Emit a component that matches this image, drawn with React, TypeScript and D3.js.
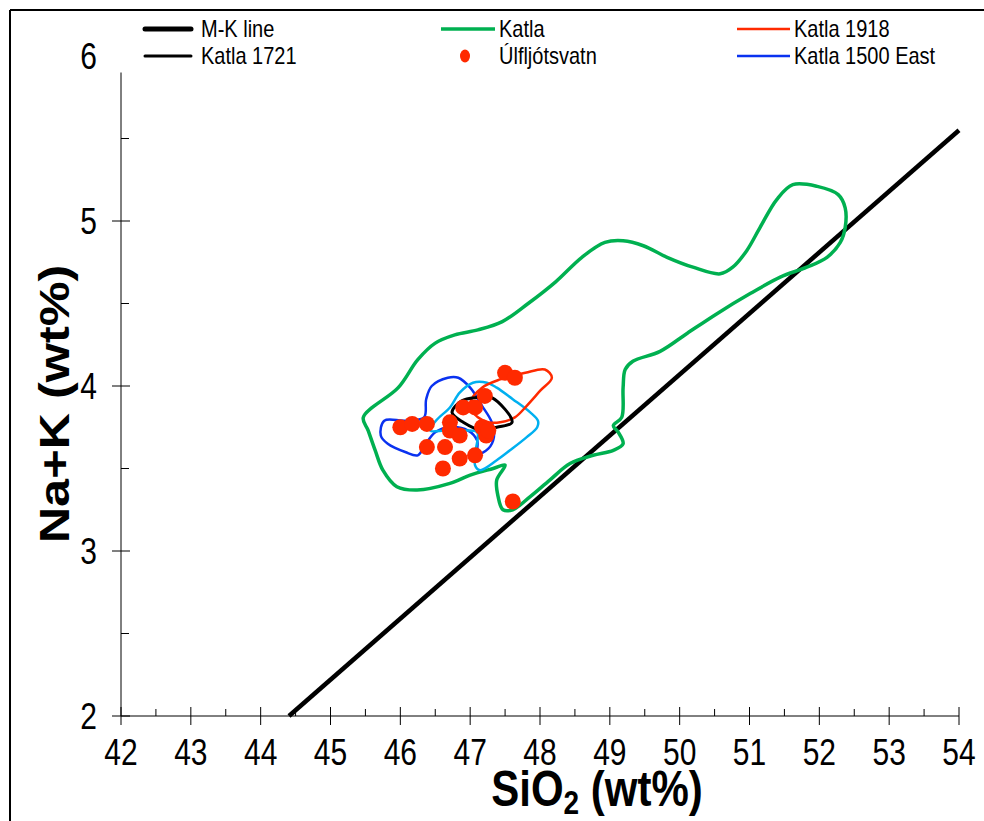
import React from "react";
import * as d3 from "d3";

const W = 984;
const H = 821;

const xTicks = [42, 43, 44, 45, 46, 47, 48, 49, 50, 51, 52, 53, 54];
const yTicks = [2, 3, 4, 5, 6];

// M-K line: Na2O+K2O = 0.37*SiO2 - 14.43
const mkSlope = 0.37;
const mkIntercept = -14.43;

const katla: [number, number][] = [
  [45.47, 3.81], [45.97, 3.99], [46.25, 4.16], [46.5, 4.26], [46.78, 4.31], [47.11, 4.34],
  [47.46, 4.39], [47.83, 4.5], [48.22, 4.63], [48.6, 4.78], [48.93, 4.87], [49.19, 4.88],
  [49.48, 4.85], [49.82, 4.78], [50.19, 4.72], [50.58, 4.68], [50.76, 4.72], [50.96, 4.82],
  [51.15, 4.96], [51.39, 5.13], [51.62, 5.22], [51.97, 5.21], [52.27, 5.16], [52.37, 5.08],
  [52.37, 4.96], [52.3, 4.87], [52.11, 4.78], [51.82, 4.72], [51.44, 4.66], [51.01, 4.56],
  [50.54, 4.44], [50.11, 4.32], [49.72, 4.21], [49.33, 4.15], [49.22, 4.1], [49.19, 3.99],
  [49.17, 3.81], [49.05, 3.76], [49.12, 3.72], [49.19, 3.65], [49.05, 3.61], [48.76, 3.58],
  [48.43, 3.53], [48.14, 3.43], [47.86, 3.33], [47.61, 3.25], [47.47, 3.25], [47.4, 3.33],
  [47.38, 3.43], [47.5, 3.52], [47.33, 3.5], [47.0, 3.46], [46.71, 3.41], [46.24, 3.37],
  [45.95, 3.39], [45.75, 3.49], [45.64, 3.61], [45.54, 3.73],
];

const katla1500East: [number, number][] = [
  [45.77, 3.79], [46.07, 3.79], [46.34, 3.81], [46.37, 3.92], [46.45, 4.0], [46.68, 4.05],
  [46.83, 4.05], [47.0, 3.99], [47.17, 3.88], [47.31, 3.78], [47.34, 3.69], [47.26, 3.62],
  [47.11, 3.59], [47.1, 3.67], [46.97, 3.73], [46.71, 3.75], [46.5, 3.72], [46.35, 3.64],
  [46.25, 3.58], [46.07, 3.6], [45.82, 3.65], [45.72, 3.7],
];

const katlaOther: [number, number][] = [
  [46.43, 3.73], [46.51, 3.79], [46.71, 3.87], [46.85, 3.96], [47.04, 4.02], [47.24, 4.02],
  [47.38, 3.99], [47.61, 3.92], [47.86, 3.84], [47.97, 3.79], [47.96, 3.75], [47.81, 3.69],
  [47.57, 3.61], [47.38, 3.55], [47.14, 3.49], [47.07, 3.52], [47.08, 3.61], [47.1, 3.72],
  [46.9, 3.73], [46.64, 3.73],
];

const katla1918: [number, number][] = [
  [47.0, 3.9], [47.17, 3.99], [47.43, 4.04], [47.79, 4.08], [48.07, 4.1], [48.17, 4.05],
  [48.0, 3.97], [47.81, 3.88], [47.64, 3.81], [47.43, 3.78], [47.26, 3.78], [47.11, 3.81],
  [47.03, 3.85],
];

const katla1721: [number, number][] = [
  [46.74, 3.84], [46.88, 3.91], [47.1, 3.93], [47.31, 3.93], [47.6, 3.78], [47.38, 3.75],
  [47.18, 3.73], [46.9, 3.78],
];

const ulfSiO2 = [46.0, 46.17, 46.38, 46.71, 46.71, 46.85, 46.38, 46.64, 47.07, 46.85, 46.61, 46.9, 47.07, 47.21, 47.17, 47.23, 47.26, 47.5, 47.64, 47.61];
const ulfAlk = [3.75, 3.77, 3.77, 3.78, 3.73, 3.7, 3.63, 3.63, 3.58, 3.56, 3.5, 3.87, 3.87, 3.94, 3.75, 3.7, 3.73, 4.08, 4.05, 3.3];

const GREEN = "#00b050";
const RED = "#ff2a00";
const BLUE = "#0a32f0";
const LIGHTBLUE = "#00b0f0";
const FONT = "'Liberation Sans', Arial, sans-serif";
const SY = 1.2; // vertical stretch of glyphs in the reference

function T({ x, y, size, anchor = "start", weight = "normal", children }: any) {
  return (
    <text
      transform={`translate(${x},${y}) scale(1,${SY})`}
      fontSize={size}
      textAnchor={anchor}
      fontWeight={weight}
    >
      {children}
    </text>
  );
}

export default function App() {
  const x = d3.scaleLinear().domain([42, 54]).range([121, 959]);
  const y = d3.scaleLinear().domain([2, 6]).range([716, 56]);

  const closed = d3
    .line<[number, number]>()
    .x((d) => x(d[0]))
    .y((d) => y(d[1]))
    .curve(d3.curveCatmullRomClosed.alpha(0.5));

  const mkX0 = (2 - mkIntercept) / mkSlope;
  const mkX1 = 54;

  const minorX = d3.range(42.5, 54, 1);
  const minorY = d3.range(2.5, 6, 1);
  const yAxisTop = 5.9;

  return (
    <svg
      width={W}
      height={H}
      style={{ position: "absolute", left: 0, top: 0, background: "#fff" }}
      fontFamily={FONT}
    >
      <rect x={0} y={0} width={W} height={H} fill="#fff" />
      {/* frame */}
      <line x1={10} y1={10} x2={W + 5} y2={10} stroke="#000" strokeWidth={2} />
      <line x1={10} y1={10} x2={10} y2={H + 5} stroke="#000" strokeWidth={2} />

      {/* axes */}
      <line x1={x(42)} y1={y(2)} x2={x(54)} y2={y(2)} stroke="#000" strokeWidth={1} />
      <line x1={x(42)} y1={y(2)} x2={x(42)} y2={y(yAxisTop)} stroke="#000" strokeWidth={1} />
      {xTicks.map((t) => (
        <g key={"xt" + t}>
          <line x1={x(t)} x2={x(t)} y1={y(2) - 9} y2={y(2) + 9} stroke="#000" />
          <T x={x(t)} y={y(2) + 49} size={30} anchor="middle">
            {t}
          </T>
        </g>
      ))}
      {minorX.map((t) => (
        <line key={"xm" + t} x1={x(t)} x2={x(t)} y1={y(2) - 7} y2={y(2)} stroke="#000" />
      ))}
      {yTicks.map((t) => (
        <g key={"yt" + t}>
          {t < 6 && <line x1={x(42) - 9} x2={x(42) + 9} y1={y(t)} y2={y(t)} stroke="#000" />}
          <T x={97} y={y(t) + 13} size={30} anchor="end">
            {t}
          </T>
        </g>
      ))}
      {minorY.map((t) => (
        <line key={"ym" + t} x1={x(42)} x2={x(42) + 8} y1={y(t)} y2={y(t)} stroke="#000" />
      ))}

      {/* titles */}
      <text
        transform={`translate(597,806) scale(1,${SY})`}
        fontSize={42}
        fontWeight="bold"
        textAnchor="middle"
      >
        SiO
        <tspan fontSize={28} dy={7}>2</tspan>
        <tspan dy={-7}> (wt%)</tspan>
      </text>
      <text
        transform={`translate(69,404) scale(1,${SY}) rotate(-90)`}
        fontSize={42}
        fontWeight="bold"
        textAnchor="middle"
      >
        Na+K (wt%)
      </text>

      {/* M-K line */}
      <line x1={x(mkX0)} y1={y(2)} x2={x(mkX1)} y2={y(mkSlope * mkX1 + mkIntercept)} stroke="#000" strokeWidth={4.5} />

      {/* fields */}
      <path d={closed(katla) || ""} fill="none" stroke={GREEN} strokeWidth={3.5} />
      <path d={closed(katla1500East) || ""} fill="none" stroke={BLUE} strokeWidth={2.5} />
      <path d={closed(katlaOther) || ""} fill="none" stroke={LIGHTBLUE} strokeWidth={2.5} />
      <path d={closed(katla1918) || ""} fill="none" stroke={RED} strokeWidth={2.5} />
      <path d={closed(katla1721) || ""} fill="none" stroke="#000" strokeWidth={3} />

      {ulfSiO2.map((s, i) => (
        <circle key={"u" + i} cx={x(s)} cy={y(ulfAlk[i])} r={8} fill={RED} />
      ))}

      {/* legend */}
      <g>
        <line x1={145} x2={191} y1={29} y2={29} stroke="#000" strokeWidth={5} strokeLinecap="round" />
        <T x={201} y={37} size={20}>M-K line</T>
        <line x1={441} x2={495} y1={29} y2={29} stroke={GREEN} strokeWidth={3.5} />
        <T x={499} y={37} size={20}>Katla</T>
        <line x1={737} x2={790} y1={29} y2={29} stroke={RED} strokeWidth={2.5} />
        <T x={794} y={37} size={20}>Katla 1918</T>

        <line x1={145} x2={191} y1={56} y2={56} stroke="#000" strokeWidth={3} strokeLinecap="round" />
        <T x={201} y={64} size={20}>Katla 1721</T>
        <ellipse cx={465} cy={56} rx={5} ry={6.5} fill={RED} />
        <T x={499} y={64} size={20}>Úlfljótsvatn</T>
        <line x1={737} x2={790} y1={56} y2={56} stroke={BLUE} strokeWidth={2.5} />
        <T x={794} y={64} size={20}>Katla 1500 East</T>
      </g>
    </svg>
  );
}
